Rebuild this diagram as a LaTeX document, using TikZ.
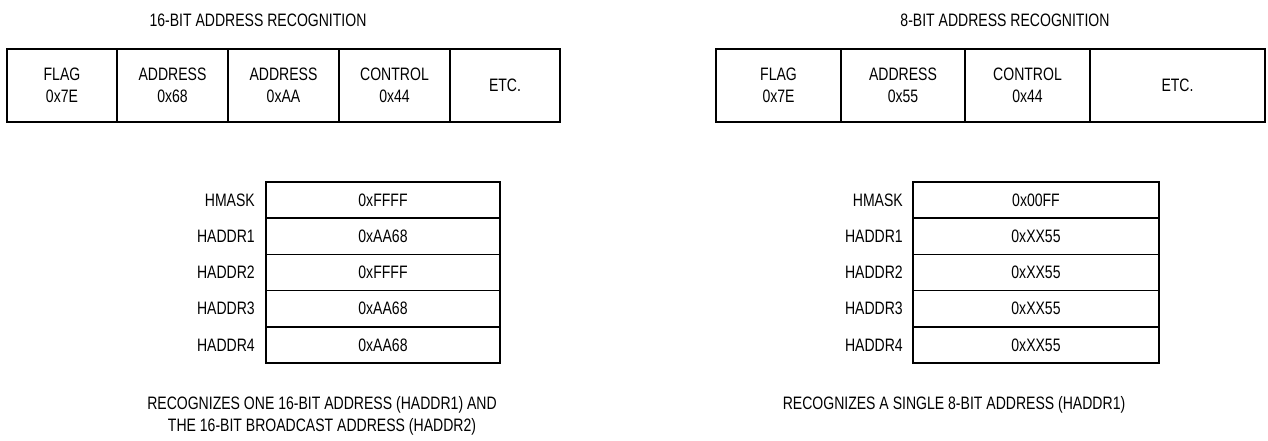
\documentclass[tikz,border=0pt]{standalone}
\usepackage{fontspec}
\setmainfont{Liberation Sans}[FakeStretch=0.78]
\begin{document}
\begin{tikzpicture}[x=1pt,y=-1pt,
  every node/.style={font=\fontsize{18}{22}\selectfont},
  cell/.style={draw,line width=1.6pt,inner sep=0pt,minimum height=73pt,align=center},
  reg/.style={draw,line width=1.5pt,inner sep=0pt,minimum height=36.2pt},
  lab/.style={anchor=east,inner sep=0pt},
  ttl/.style={inner sep=0pt,align=center}]
\useasboundingbox (0,0) rectangle (1268,440);
% titles
\node[ttl] (t1) at (258,20) {16-BIT ADDRESS RECOGNITION};
\node[ttl] (t2) at (1005,20) {8-BIT ADDRESS RECOGNITION};
% frame 1
\node[cell,minimum width=110pt] (a1) at (62,85.5) {FLAG\\0x7E};
\node[cell,minimum width=111pt] (a2) at (172.5,85.5) {ADDRESS\\0x68};
\node[cell,minimum width=111pt] (a3) at (283.5,85.5) {ADDRESS\\0xAA};
\node[cell,minimum width=111pt] (a4) at (394.5,85.5) {CONTROL\\0x44};
\node[cell,minimum width=110pt] (a5) at (505,85.5) {ETC.};
% frame 2
\node[cell,minimum width=125pt] (b1) at (778.5,85.5) {FLAG\\0x7E};
\node[cell,minimum width=124pt] (b2) at (903,85.5) {ADDRESS\\0x55};
\node[cell,minimum width=125pt] (b3) at (1027.5,85.5) {CONTROL\\0x44};
\node[cell,minimum width=175pt] (b4) at (1177.5,85.5) {ETC.};
% table 1
\foreach \n/\lbl/\val [count=\i from 0] in {m/HMASK/0xFFFF,r1/HADDR1/0xAA68,r2/HADDR2/0xFFFF,r3/HADDR3/0xAA68,r4/HADDR4/0xAA68}{
  \node[reg,minimum width=234pt] (p\n) at (383,{200.1+36.2*\i}) {\val};
  \node[lab] (pl\n) at (255,{200.1+36.2*\i}) {\lbl};
}
% table 2
\foreach \n/\lbl/\val [count=\i from 0] in {m/HMASK/0x00FF,r1/HADDR1/0xXX55,r2/HADDR2/0xXX55,r3/HADDR3/0xXX55,r4/HADDR4/0xXX55}{
  \node[reg,minimum width=246pt] (q\n) at (1036,{200.1+36.2*\i}) {\val};
  \node[lab] (ql\n) at (903,{200.1+36.2*\i}) {\lbl};
}
% captions
\node[ttl] (c1) at (322,416) {RECOGNIZES ONE 16-BIT ADDRESS (HADDR1) AND\\THE 16-BIT BROADCAST ADDRESS (HADDR2)};
\node[ttl] (c2) at (954,405) {RECOGNIZES A SINGLE 8-BIT ADDRESS (HADDR1)};
\end{tikzpicture}
\end{document}
